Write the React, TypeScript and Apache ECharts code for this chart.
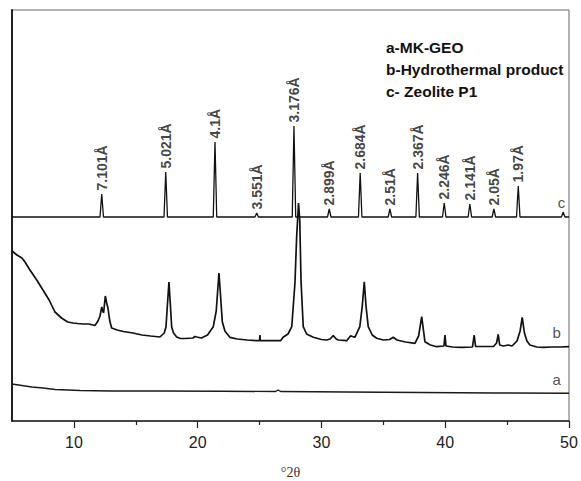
import React, { useEffect, useRef } from "react";
import * as echarts from "echarts";

// ---- data (2θ in degrees, intensity in arbitrary units) ----
const curveC_base = 204;
const curveC_peakPos = [12.25, 17.42, 21.4, 24.77, 27.78, 30.63, 33.13, 35.53, 37.77, 39.92, 41.99, 43.93, 45.9, 49.53];
const curveC_peakTop = [227, 249, 279, 208, 295, 212, 248, 212, 248, 218, 217, 212, 235, 209];
const curveC_labels = ["7.101Å", "5.021Å", "4.1Å", "3.551Å", "3.176Å", "2.899Å", "2.684Å", "2.51Å", "2.367Å", "2.246Å", "2.141Å", "2.05Å", "1.97Å", ""];

const curveB: [number, number][] = [
  [5.0, 170], [5.4, 166], [5.8, 163], [6.05, 159], [6.45, 151], [7.0, 141], [7.5, 131], [8.0, 121],
  [8.47, 109], [9.0, 103], [9.5, 99], [9.93, 98], [10.3, 97.5], [10.74, 97], [11.2, 97], [11.7, 95.5],
  [11.95, 100], [12.11, 105], [12.25, 114], [12.33, 110], [12.4, 108], [12.54, 125], [12.65, 118],
  [12.75, 113], [12.9, 100], [13.05, 93], [13.5, 91], [14.0, 89.5], [14.77, 88], [15.5, 86], [16.2, 85],
  [16.95, 84], [17.3, 88], [17.44, 94], [17.55, 115], [17.68, 139], [17.8, 115], [17.9, 94], [18.05, 88],
  [18.3, 84], [18.57, 82.7], [19.0, 82.5], [19.62, 83], [19.78, 84.5], [19.92, 84], [20.3, 83], [20.8, 86],
  [21.26, 94.3], [21.5, 110], [21.72, 148], [21.85, 125], [21.99, 99.3], [22.2, 90], [22.6, 83.7],
  [23.2, 82], [24.0, 81], [24.77, 80.3], [25.0, 80.3], [25.03, 86], [25.06, 80.3], [26.7, 80.3],
  [26.9, 83.7], [27.3, 87], [27.6, 94.3], [27.86, 138], [28.0, 185], [28.15, 218], [28.25, 200],
  [28.35, 140], [28.53, 94.3], [28.8, 87], [29.34, 83.7], [30.0, 81.5], [30.42, 81], [30.7, 82],
  [30.95, 85.3], [31.2, 82], [31.36, 81], [32.04, 80.3], [32.36, 85.3], [32.5, 84.5], [32.7, 83.7],
  [33.1, 94.3], [33.3, 115], [33.46, 139.3], [33.6, 115], [33.78, 94.3], [34.1, 86], [34.46, 82.7],
  [35.0, 81], [35.5, 81.5], [35.8, 83.7], [36.1, 81], [36.8, 79], [37.55, 77.7], [37.85, 85],
  [38.1, 104.3], [38.25, 90], [38.36, 79.3], [38.8, 76], [39.3, 74.3], [39.9, 75], [39.98, 86],
  [40.06, 75], [40.6, 74], [41.3, 73.7], [42.2, 74], [42.34, 86], [42.45, 74.5], [43.2, 74.5],
  [43.9, 74.5], [44.15, 78], [44.28, 86.7], [44.4, 76], [44.7, 75], [45.09, 76], [45.4, 75], [45.8, 80],
  [46.05, 90], [46.22, 103.7], [46.4, 88], [46.6, 80], [46.84, 76], [47.4, 74], [47.9, 73.7], [48.6, 74],
  [49.3, 74], [50.0, 74.3],
];

const curveA: [number, number][] = [
  [5.0, 37], [5.8, 35.5], [6.6, 34], [7.5, 33], [8.5, 31.5], [9.5, 31], [10.5, 30.5], [13, 30], [17, 30],
  [22, 29.7], [26.3, 29.5], [26.5, 31], [26.7, 29.5], [32, 29], [38, 28.5], [44, 28], [50, 27.7],
];

const curveTags: [number, number, string][] = [
  [49.4, 219, "c"],
  [49.0, 89, "b"],
  [49.0, 42, "a"],
];

const legendLines = ["a-MK-GEO", "b-Hydrothermal product", "c- Zeolite P1"];
const majorTicks = [10, 20, 30, 40, 50];
const minorTicks = [15, 25, 35, 45];
const xName = "°2θ";

const SANS = "'Liberation Sans', Arial, Helvetica, sans-serif";

export default function App() {
  const ref = useRef<HTMLDivElement>(null);
  useEffect(() => {
    if (!ref.current) return;
    const chart = echarts.init(ref.current, undefined, { renderer: "svg" });

    const halfW = 0.14;
    const cLine: [number, number][] = [[5, curveC_base]];
    curveC_peakPos.forEach((p, i) => {
      cLine.push([p - halfW, curveC_base]);
      cLine.push([p, curveC_peakTop[i]]);
      cLine.push([p + halfW, curveC_base]);
    });
    cLine.push([50, curveC_base]);

    const peakLabelData = curveC_peakPos.map((p, i) => ({
      value: [p, curveC_peakTop[i]],
      label: { formatter: curveC_labels[i] },
    }));

    chart.setOption({
      animation: false,
      backgroundColor: "#ffffff",
      grid: {
        left: 12,
        right: 12,
        top: 10,
        bottom: 60,
        containLabel: false,
        outerBoundsMode: "none",
        show: true,
        borderColor: "#666",
        borderWidth: 1,
      },
      xAxis: [
        {
          type: "value",
          min: 5,
          max: 50,
          position: "bottom",
          splitLine: { show: false },
          axisLine: { show: true, onZero: false, lineStyle: { color: "#222", width: 1.5 } },
          axisTick: { show: true, inside: false, length: 7, customValues: majorTicks, lineStyle: { color: "#222", width: 1.2 } },
          axisLabel: {
            show: true,
            customValues: majorTicks,
            margin: 13,
            color: "#222",
            fontSize: 16,
            fontFamily: SANS,
          },
          name: xName,
          nameLocation: "middle",
          nameGap: 44,
          nameTextStyle: { color: "#333", fontSize: 14, fontFamily: "'Liberation Serif', 'DejaVu Serif', serif" },
        },
        {
          type: "value",
          min: 5,
          max: 50,
          position: "bottom",
          splitLine: { show: false },
          axisLine: { show: false, onZero: false },
          axisTick: { show: true, inside: false, length: 4, customValues: minorTicks, lineStyle: { color: "#222", width: 1.2 } },
          axisLabel: { show: false },
        },
      ],
      yAxis: {
        type: "value",
        min: 0,
        max: 411,
        splitLine: { show: false },
        axisLine: { show: true, onZero: false, lineStyle: { color: "#111", width: 1.8 } },
        axisTick: { show: false },
        axisLabel: { show: false },
      },
      series: [
        {
          name: "a",
          type: "line",
          data: curveA,
          showSymbol: false,
          symbol: "none",
          lineStyle: { color: "#1a1a1a", width: 1.4 },
        },
        {
          name: "b",
          type: "line",
          data: curveB,
          showSymbol: false,
          symbol: "none",
          lineStyle: { color: "#111", width: 1.7 },
        },
        {
          name: "c",
          type: "line",
          data: cLine,
          showSymbol: false,
          symbol: "none",
          lineStyle: { color: "#111", width: 1.3 },
        },
        {
          name: "peakLabels",
          type: "scatter",
          data: peakLabelData,
          symbolSize: 1,
          itemStyle: { color: "rgba(0,0,0,0)" },
          label: {
            show: true,
            position: "top",
            distance: 3,
            rotate: 90,
            align: "left",
            verticalAlign: "middle",
            color: "#111",
            fontSize: 14,
            fontWeight: "bold",
            fontFamily: SANS,
          },
          silent: true,
        },
        {
          name: "tags",
          type: "scatter",
          data: curveTags.map((t) => ({ value: [t[0], t[1]], label: { formatter: t[2] } })),
          symbolSize: 1,
          itemStyle: { color: "rgba(0,0,0,0)" },
          label: {
            show: true,
            position: "inside",
            color: "#222",
            fontSize: 15,
            fontFamily: SANS,
          },
          silent: true,
        },
      ],
      graphic: legendLines.map((t, i) => ({
        type: "text",
        left: 386,
        top: 39 + i * 22,
        style: {
          text: t,
          fill: "#111",
          font: `bold 15.5px ${SANS}`,
        },
      })),
    });

    return () => chart.dispose();
  }, []);

  return (
    <div
      ref={ref}
      style={{ position: "absolute", left: 0, top: 0, width: 581, height: 481, background: "#fff" }}
    />
  );
}
